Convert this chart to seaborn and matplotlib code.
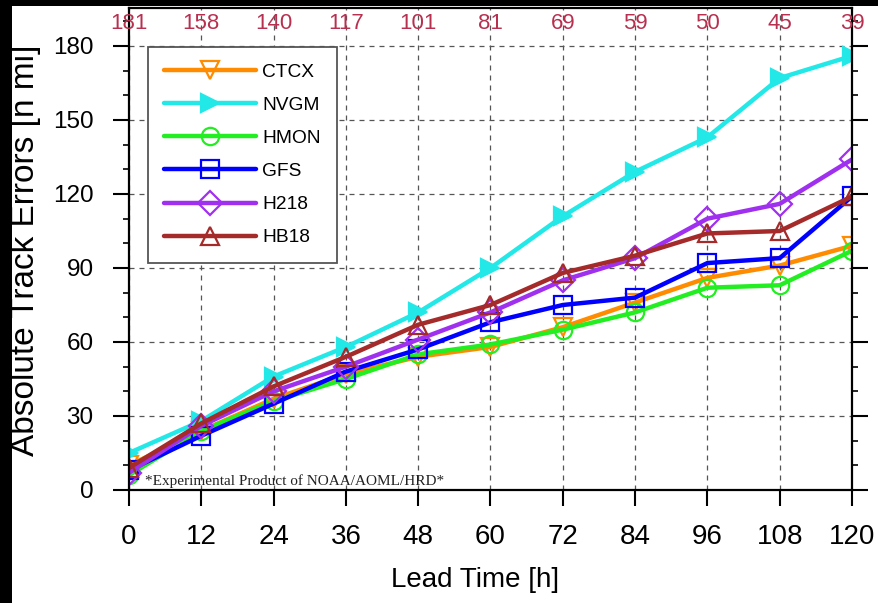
import numpy as np
import pandas as pd
import seaborn as sns
from matplotlib import pyplot as plt
from matplotlib.patches import Rectangle
from matplotlib.ticker import MultipleLocator

# lead times and sample counts (top row)
lead = [0, 12, 24, 36, 48, 60, 72, 84, 96, 108, 120]
counts = [181, 158, 140, 117, 101, 81, 69, 59, 50, 45, 39]

# absolute track errors [n mi]
ctcx = [10, 24, 37, 47, 54, 58, 66, 76, 86, 91, 99]
nvgm = [15, 28, 46, 58, 72, 90, 111, 129, 143, 167, 176]
hmon = [6, 24, 36, 45, 55, 59, 65, 72, 82, 83, 97]
gfs = [8, 22, 35, 48, 57, 68, 75, 78, 92, 94, 119]
h218 = [7, 26, 40, 50, 61, 72, 85, 94, 110, 116, 134]
hb18 = [9, 27, 42, 54, 67, 75, 88, 95, 104, 105, 119]

models = ["CTCX", "NVGM", "HMON", "GFS", "H218", "HB18"]
values = [ctcx, nvgm, hmon, gfs, h218, hb18]
colors = ["#ff8c00", "#22e8e8", "#22ee22", "#0000ff", "#a030f0", "#a52a2a"]
markers = ["v", ">", "o", "s", "D", "^"]

sns.set_style("ticks")
plt.rcParams["font.family"] = ["Liberation Sans", "DejaVu Sans"]
for k in ["text.color", "axes.labelcolor", "xtick.color", "ytick.color"]:
    plt.rcParams[k] = "black"

fig = plt.figure(figsize=(8.79, 6.03), dpi=100)
fig.patch.set_facecolor("white")
# black strips on the left and top edges
fig.patches.append(Rectangle((0, 0), 12 / 879, 1, transform=fig.transFigure,
                             facecolor="black", edgecolor="none", zorder=-1))
fig.patches.append(Rectangle((0, 1 - 6 / 603), 1, 6 / 603, transform=fig.transFigure,
                             facecolor="black", edgecolor="none", zorder=-1))

ax = fig.add_axes([129 / 879, 113 / 603, 723 / 879, 482 / 603])

for name, vals, c, m in zip(models, values, colors, markers):
    df = pd.DataFrame({"lead": lead, "err": vals})
    mfc = c if name == "NVGM" else "none"
    ms = 13.5 if name == "NVGM" else 12.5
    sns.lineplot(data=df, x="lead", y="err", color=c, marker=m, markersize=ms,
                 markerfacecolor=mfc, markeredgecolor=c, markeredgewidth=1.6,
                 linewidth=3.2, label=name, ax=ax)

ax.set_xlim(0, 120)
ax.set_ylim(0, 195.4)
ax.set_xticks(lead)
ax.set_yticks(np.arange(0, 181, 30))
ax.yaxis.set_minor_locator(MultipleLocator(10))

ax.set_axisbelow(True)
ax.grid(True, which="major", linestyle=(0, (4, 4)), color="#555555", linewidth=0.9)

for s in ax.spines.values():
    s.set_linewidth(1.6)
    s.set_color("black")

ax.tick_params(axis="x", which="major", direction="out", length=11.5, width=1.5,
               labelsize=20, pad=13, bottom=True, top=False)
ax.tick_params(axis="y", which="major", direction="out", length=11.5, width=1.5,
               labelsize=17.5, pad=14, left=True, right=True)
ax.tick_params(axis="y", which="minor", direction="out", length=4, width=1.2,
               left=True, right=True)

ax.set_xlabel("Lead Time [h]", fontsize=20)
ax.set_ylabel("Absolute Track Errors [n mi]", fontsize=24)
ax.xaxis.set_label_coords(0.479, -0.16)
ax.yaxis.set_label_coords(-0.122, 0.498)

# sample counts along the top
for x, n in zip(lead, counts):
    ax.text(x, 189.2, str(n), ha="center", va="center", fontsize=16, color="#b83050")

ax.text(2.6, 3.8, "*Experimental Product of NOAA/AOML/HRD*", ha="left", va="center",
        fontsize=11, family="Liberation Serif", color="#222222")

leg = ax.legend(loc="upper left", bbox_to_anchor=(0.0263, 0.919), borderaxespad=0,
                fontsize=13.8, handlelength=4.8, handletextpad=0.3, borderpad=0.85,
                labelspacing=0.82, fancybox=False, framealpha=1, edgecolor="#555555",
                numpoints=1)
leg.get_frame().set_linewidth(1.3)

plt.savefig("out.png", dpi=100, facecolor=fig.get_facecolor())
